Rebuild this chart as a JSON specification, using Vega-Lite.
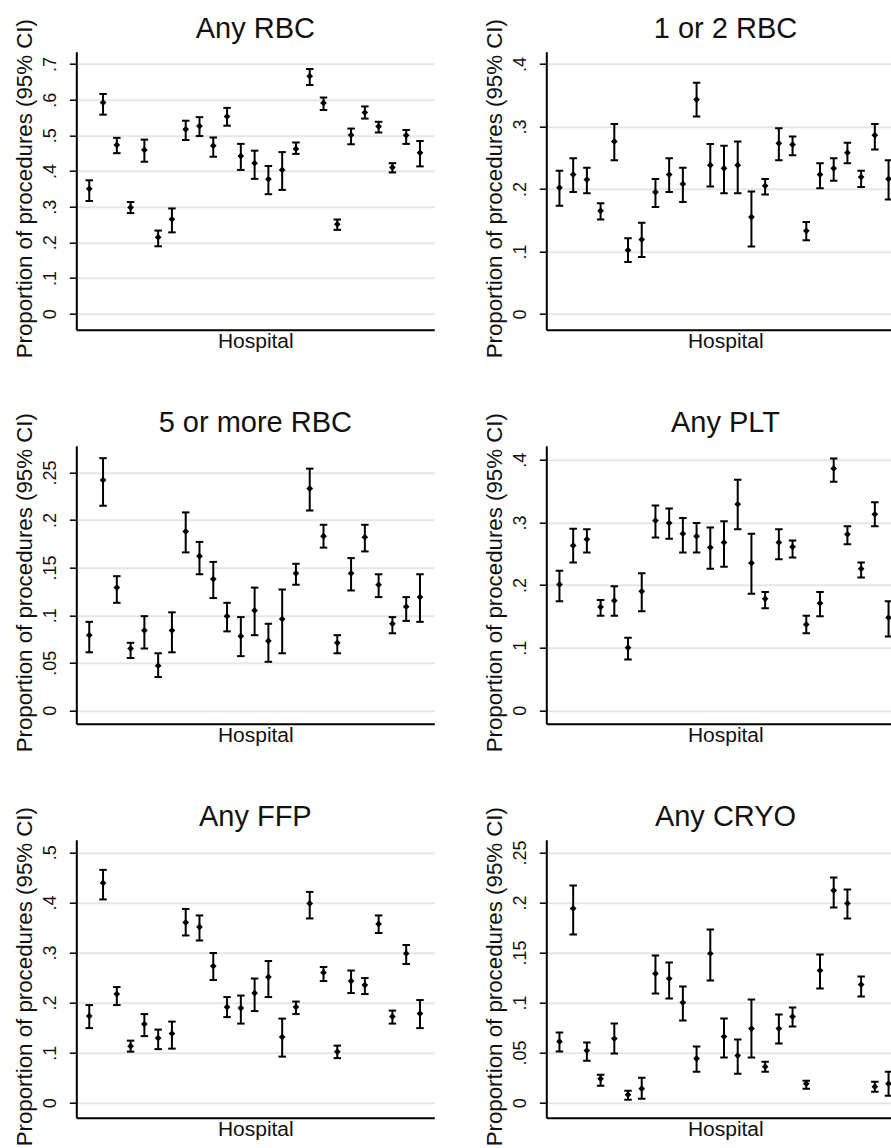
{
  "$schema": "https://vega.github.io/schema/vega-lite/v6.json",
  "usermeta": {"embedOptions": {"actions": false}},
  "background": "white",
  "padding": {"left": 12.3, "top": 14.7, "right": 0, "bottom": 0},
  "bounds": "flush",
  "columns": 2,
  "spacing": {"row": 116, "column": 112},
  "config": {
    "font": "Liberation Sans",
    "view": {"stroke": null},
    "axis": {"domainColor": "#000", "domainWidth": 2, "tickColor": "#000", "tickWidth": 1.5, "labelColor": "#111", "titleColor": "#111", "titleFontWeight": "normal", "titleFont": "Liberation Sans", "labelFont": "Liberation Sans"},
    "axisY": {"grid": true, "gridColor": "#e6e6e6", "gridWidth": 2, "tickSize": 7, "tickCount": 10, "labelFontSize": 18, "labelAngle": -90, "labelAlign": "center", "labelBaseline": "alphabetic", "labelPadding": 14, "labelFlush": false, "labelOverlap": false, "labelBound": false, "titleFontSize": 22.3, "titleAngle": -90, "titleX": -45, "titleY": 136.5, "titleBaseline": "alphabetic", "titleAlign": "center"},
    "axisX": {"labels": false, "ticks": false, "grid": false, "titleFontSize": 21, "titlePadding": 1},
    "title": {"fontSize": 29, "fontWeight": "normal", "color": "#111", "font": "Liberation Sans", "offset": -20.1, "baseline": "alphabetic", "frame": "group", "anchor": "middle"}
  },
  "datasets": {
    "rbc": [
      {"h":1,"p":0.350,"lo":0.316,"hi":0.374},{"h":2,"p":0.592,"lo":0.558,"hi":0.616},{"h":3,"p":0.473,"lo":0.450,"hi":0.493},{"h":4,"p":0.298,"lo":0.282,"hi":0.313},{"h":5,"p":0.459,"lo":0.426,"hi":0.488},
      {"h":6,"p":0.214,"lo":0.189,"hi":0.233},{"h":7,"p":0.265,"lo":0.228,"hi":0.295},{"h":8,"p":0.517,"lo":0.487,"hi":0.541},{"h":9,"p":0.526,"lo":0.498,"hi":0.551},{"h":10,"p":0.471,"lo":0.440,"hi":0.494},
      {"h":11,"p":0.553,"lo":0.527,"hi":0.577},{"h":12,"p":0.442,"lo":0.403,"hi":0.476},{"h":13,"p":0.422,"lo":0.378,"hi":0.457},{"h":14,"p":0.377,"lo":0.335,"hi":0.414},{"h":15,"p":0.403,"lo":0.347,"hi":0.453},
      {"h":16,"p":0.462,"lo":0.448,"hi":0.480},{"h":17,"p":0.666,"lo":0.641,"hi":0.686},{"h":18,"p":0.591,"lo":0.571,"hi":0.606},{"h":19,"p":0.251,"lo":0.235,"hi":0.264},{"h":20,"p":0.501,"lo":0.475,"hi":0.519},
      {"h":21,"p":0.564,"lo":0.547,"hi":0.581},{"h":22,"p":0.525,"lo":0.508,"hi":0.538},{"h":23,"p":0.410,"lo":0.396,"hi":0.422},{"h":24,"p":0.500,"lo":0.476,"hi":0.515},{"h":25,"p":0.451,"lo":0.413,"hi":0.484}
    ],
    "rbc12": [
      {"h":1,"p":0.202,"lo":0.173,"hi":0.229},{"h":2,"p":0.223,"lo":0.195,"hi":0.249},{"h":3,"p":0.215,"lo":0.193,"hi":0.234},{"h":4,"p":0.165,"lo":0.151,"hi":0.177},{"h":5,"p":0.276,"lo":0.246,"hi":0.304},
      {"h":6,"p":0.102,"lo":0.083,"hi":0.121},{"h":7,"p":0.119,"lo":0.091,"hi":0.146},{"h":8,"p":0.195,"lo":0.171,"hi":0.216},{"h":9,"p":0.223,"lo":0.195,"hi":0.249},{"h":10,"p":0.208,"lo":0.179,"hi":0.234},
      {"h":11,"p":0.343,"lo":0.316,"hi":0.370},{"h":12,"p":0.238,"lo":0.204,"hi":0.272},{"h":13,"p":0.233,"lo":0.193,"hi":0.269},{"h":14,"p":0.238,"lo":0.193,"hi":0.276},{"h":15,"p":0.155,"lo":0.108,"hi":0.196},
      {"h":16,"p":0.205,"lo":0.191,"hi":0.216},{"h":17,"p":0.273,"lo":0.246,"hi":0.297},{"h":18,"p":0.271,"lo":0.254,"hi":0.284},{"h":19,"p":0.133,"lo":0.118,"hi":0.147},{"h":20,"p":0.223,"lo":0.201,"hi":0.241},
      {"h":21,"p":0.233,"lo":0.213,"hi":0.249},{"h":22,"p":0.258,"lo":0.241,"hi":0.274},{"h":23,"p":0.219,"lo":0.203,"hi":0.229},{"h":24,"p":0.286,"lo":0.263,"hi":0.304},{"h":25,"p":0.216,"lo":0.183,"hi":0.246}
    ],
    "rbc5": [
      {"h":1,"p":0.079,"lo":0.061,"hi":0.093},{"h":2,"p":0.242,"lo":0.215,"hi":0.265},{"h":3,"p":0.129,"lo":0.113,"hi":0.141},{"h":4,"p":0.065,"lo":0.055,"hi":0.071},{"h":5,"p":0.084,"lo":0.065,"hi":0.099},
      {"h":6,"p":0.047,"lo":0.035,"hi":0.060},{"h":7,"p":0.084,"lo":0.061,"hi":0.103},{"h":8,"p":0.188,"lo":0.166,"hi":0.208},{"h":9,"p":0.162,"lo":0.143,"hi":0.177},{"h":10,"p":0.138,"lo":0.118,"hi":0.156},
      {"h":11,"p":0.099,"lo":0.083,"hi":0.113},{"h":12,"p":0.078,"lo":0.057,"hi":0.098},{"h":13,"p":0.105,"lo":0.079,"hi":0.129},{"h":14,"p":0.073,"lo":0.051,"hi":0.091},{"h":15,"p":0.096,"lo":0.060,"hi":0.127},
      {"h":16,"p":0.144,"lo":0.132,"hi":0.154},{"h":17,"p":0.233,"lo":0.210,"hi":0.254},{"h":18,"p":0.183,"lo":0.171,"hi":0.195},{"h":19,"p":0.071,"lo":0.060,"hi":0.079},{"h":20,"p":0.144,"lo":0.126,"hi":0.160},
      {"h":21,"p":0.182,"lo":0.167,"hi":0.195},{"h":22,"p":0.132,"lo":0.119,"hi":0.143},{"h":23,"p":0.091,"lo":0.081,"hi":0.098},{"h":24,"p":0.109,"lo":0.094,"hi":0.119},{"h":25,"p":0.119,"lo":0.093,"hi":0.143}
    ],
    "plt": [
      {"h":1,"p":0.201,"lo":0.174,"hi":0.223},{"h":2,"p":0.263,"lo":0.236,"hi":0.290},{"h":3,"p":0.273,"lo":0.252,"hi":0.289},{"h":4,"p":0.165,"lo":0.151,"hi":0.176},{"h":5,"p":0.175,"lo":0.151,"hi":0.198},
      {"h":6,"p":0.100,"lo":0.081,"hi":0.116},{"h":7,"p":0.190,"lo":0.158,"hi":0.219},{"h":8,"p":0.303,"lo":0.276,"hi":0.327},{"h":9,"p":0.299,"lo":0.274,"hi":0.322},{"h":10,"p":0.282,"lo":0.252,"hi":0.307},
      {"h":11,"p":0.278,"lo":0.252,"hi":0.299},{"h":12,"p":0.260,"lo":0.226,"hi":0.292},{"h":13,"p":0.268,"lo":0.229,"hi":0.302},{"h":14,"p":0.329,"lo":0.289,"hi":0.368},{"h":15,"p":0.235,"lo":0.186,"hi":0.282},
      {"h":16,"p":0.178,"lo":0.163,"hi":0.189},{"h":17,"p":0.268,"lo":0.241,"hi":0.289},{"h":18,"p":0.261,"lo":0.244,"hi":0.271},{"h":19,"p":0.137,"lo":0.123,"hi":0.151},{"h":20,"p":0.171,"lo":0.150,"hi":0.189},
      {"h":21,"p":0.386,"lo":0.365,"hi":0.402},{"h":22,"p":0.281,"lo":0.265,"hi":0.294},{"h":23,"p":0.226,"lo":0.212,"hi":0.236},{"h":24,"p":0.313,"lo":0.294,"hi":0.332},{"h":25,"p":0.148,"lo":0.118,"hi":0.174}
    ],
    "ffp": [
      {"h":1,"p":0.173,"lo":0.149,"hi":0.195},{"h":2,"p":0.439,"lo":0.406,"hi":0.465},{"h":3,"p":0.217,"lo":0.195,"hi":0.231},{"h":4,"p":0.113,"lo":0.102,"hi":0.124},{"h":5,"p":0.157,"lo":0.133,"hi":0.177},
      {"h":6,"p":0.129,"lo":0.107,"hi":0.146},{"h":7,"p":0.138,"lo":0.108,"hi":0.162},{"h":8,"p":0.360,"lo":0.334,"hi":0.387},{"h":9,"p":0.351,"lo":0.324,"hi":0.374},{"h":10,"p":0.273,"lo":0.245,"hi":0.299},
      {"h":11,"p":0.191,"lo":0.171,"hi":0.211},{"h":12,"p":0.189,"lo":0.158,"hi":0.214},{"h":13,"p":0.219,"lo":0.183,"hi":0.248},{"h":14,"p":0.251,"lo":0.211,"hi":0.283},{"h":15,"p":0.131,"lo":0.092,"hi":0.168},
      {"h":16,"p":0.191,"lo":0.177,"hi":0.202},{"h":17,"p":0.398,"lo":0.368,"hi":0.421},{"h":18,"p":0.260,"lo":0.243,"hi":0.271},{"h":19,"p":0.102,"lo":0.089,"hi":0.114},{"h":20,"p":0.243,"lo":0.219,"hi":0.264},
      {"h":21,"p":0.235,"lo":0.217,"hi":0.249},{"h":22,"p":0.357,"lo":0.339,"hi":0.374},{"h":23,"p":0.172,"lo":0.158,"hi":0.184},{"h":24,"p":0.298,"lo":0.277,"hi":0.315},{"h":25,"p":0.178,"lo":0.149,"hi":0.205}
    ],
    "cryo": [
      {"h":1,"p":0.061,"lo":0.051,"hi":0.070},{"h":2,"p":0.194,"lo":0.168,"hi":0.217},{"h":3,"p":0.052,"lo":0.042,"hi":0.060},{"h":4,"p":0.024,"lo":0.017,"hi":0.028},{"h":5,"p":0.064,"lo":0.049,"hi":0.079},
      {"h":6,"p":0.008,"lo":0.003,"hi":0.012},{"h":7,"p":0.014,"lo":0.004,"hi":0.025},{"h":8,"p":0.129,"lo":0.109,"hi":0.147},{"h":9,"p":0.124,"lo":0.104,"hi":0.140},{"h":10,"p":0.100,"lo":0.082,"hi":0.116},
      {"h":11,"p":0.044,"lo":0.031,"hi":0.056},{"h":12,"p":0.149,"lo":0.122,"hi":0.173},{"h":13,"p":0.066,"lo":0.045,"hi":0.084},{"h":14,"p":0.047,"lo":0.029,"hi":0.063},{"h":15,"p":0.074,"lo":0.045,"hi":0.103},
      {"h":16,"p":0.036,"lo":0.031,"hi":0.041},{"h":17,"p":0.074,"lo":0.059,"hi":0.088},{"h":18,"p":0.086,"lo":0.076,"hi":0.095},{"h":19,"p":0.019,"lo":0.014,"hi":0.022},{"h":20,"p":0.132,"lo":0.114,"hi":0.148},
      {"h":21,"p":0.212,"lo":0.195,"hi":0.225},{"h":22,"p":0.199,"lo":0.184,"hi":0.213},{"h":23,"p":0.118,"lo":0.106,"hi":0.126},{"h":24,"p":0.016,"lo":0.011,"hi":0.021},{"h":25,"p":0.019,"lo":0.007,"hi":0.031}
    ]
  },
  "concat": [
    {
      "title": {"text": "Any RBC", "dy": 5.5},
      "width": 358, "height": 278,
      "data": {"name": "rbc"},
      "encoding": {"x": {"field": "h", "type": "quantitative", "scale": {"domain": [0.06, 26.04], "nice": false, "zero": false}, "axis": {"title": "Hospital"}}},
      "layer": [
        {"mark": {"type": "rule", "strokeWidth": 2, "color": "#000"}, "encoding": {"y": {"field": "lo", "type": "quantitative", "scale": {"domain": [-0.0449, 0.7345], "nice": false, "zero": false}, "axis": {"title": "Proportion of procedures (95% CI)", "values": [0, 0.1, 0.2, 0.3, 0.4, 0.5, 0.6, 0.7], "tickCount": 10, "labelExpr": "datum.value == 0 ? '0' : replace(format(datum.value, '.2~f'), '0.', '.')"}}, "y2": {"field": "hi"}}},
        {"mark": {"type": "tick", "orient": "horizontal", "size": 7.5, "thickness": 2, "color": "#000", "opacity": 1}, "encoding": {"y": {"field": "lo", "type": "quantitative"}}},
        {"mark": {"type": "tick", "orient": "horizontal", "size": 7.5, "thickness": 2, "color": "#000", "opacity": 1}, "encoding": {"y": {"field": "hi", "type": "quantitative"}}},
        {"mark": {"type": "point", "shape": "diamond", "filled": true, "size": 45, "color": "#000", "opacity": 1}, "encoding": {"y": {"field": "p", "type": "quantitative"}}}
      ]
    },
    {
      "title": {"text": "1 or 2 RBC", "dx": 6.7, "dy": 5.5},
      "width": 345, "height": 278,
      "data": {"name": "rbc12"},
      "encoding": {"x": {"field": "h", "type": "quantitative", "scale": {"domain": [0.04, 25.2], "nice": false, "zero": false}, "axis": {"title": "Hospital", "titleX": 179}}},
      "layer": [
        {"mark": {"type": "rule", "strokeWidth": 2, "color": "#000", "clip": true}, "encoding": {"y": {"field": "lo", "type": "quantitative", "scale": {"domain": [-0.0253, 0.4197], "nice": false, "zero": false}, "axis": {"title": "Proportion of procedures (95% CI)", "values": [0, 0.1, 0.2, 0.3, 0.4], "tickCount": 10, "labelExpr": "datum.value == 0 ? '0' : replace(format(datum.value, '.2~f'), '0.', '.')"}}, "y2": {"field": "hi"}}},
        {"mark": {"type": "tick", "orient": "horizontal", "size": 7.5, "thickness": 2, "color": "#000", "opacity": 1, "clip": true}, "encoding": {"y": {"field": "lo", "type": "quantitative"}}},
        {"mark": {"type": "tick", "orient": "horizontal", "size": 7.5, "thickness": 2, "color": "#000", "opacity": 1, "clip": true}, "encoding": {"y": {"field": "hi", "type": "quantitative"}}},
        {"mark": {"type": "point", "shape": "diamond", "filled": true, "size": 45, "color": "#000", "opacity": 1, "clip": true}, "encoding": {"y": {"field": "p", "type": "quantitative"}}}
      ]
    },
    {
      "title": {"text": "5 or more RBC", "dy": 5.5},
      "width": 358, "height": 278,
      "data": {"name": "rbc5"},
      "encoding": {"x": {"field": "h", "type": "quantitative", "scale": {"domain": [0.06, 26.04], "nice": false, "zero": false}, "axis": {"title": "Hospital"}}},
      "layer": [
        {"mark": {"type": "rule", "strokeWidth": 2, "color": "#000"}, "encoding": {"y": {"field": "lo", "type": "quantitative", "scale": {"domain": [-0.014, 0.2781], "nice": false, "zero": false}, "axis": {"title": "Proportion of procedures (95% CI)", "values": [0, 0.05, 0.1, 0.15, 0.2, 0.25], "tickCount": 10, "labelExpr": "datum.value == 0 ? '0' : replace(format(datum.value, '.2~f'), '0.', '.')"}}, "y2": {"field": "hi"}}},
        {"mark": {"type": "tick", "orient": "horizontal", "size": 7.5, "thickness": 2, "color": "#000", "opacity": 1}, "encoding": {"y": {"field": "lo", "type": "quantitative"}}},
        {"mark": {"type": "tick", "orient": "horizontal", "size": 7.5, "thickness": 2, "color": "#000", "opacity": 1}, "encoding": {"y": {"field": "hi", "type": "quantitative"}}},
        {"mark": {"type": "point", "shape": "diamond", "filled": true, "size": 45, "color": "#000", "opacity": 1}, "encoding": {"y": {"field": "p", "type": "quantitative"}}}
      ]
    },
    {
      "title": {"text": "Any PLT", "dx": 6.7, "dy": 5.5},
      "width": 345, "height": 278,
      "data": {"name": "plt"},
      "encoding": {"x": {"field": "h", "type": "quantitative", "scale": {"domain": [0.04, 25.2], "nice": false, "zero": false}, "axis": {"title": "Hospital", "titleX": 179}}},
      "layer": [
        {"mark": {"type": "rule", "strokeWidth": 2, "color": "#000", "clip": true}, "encoding": {"y": {"field": "lo", "type": "quantitative", "scale": {"domain": [-0.0213, 0.4224], "nice": false, "zero": false}, "axis": {"title": "Proportion of procedures (95% CI)", "values": [0, 0.1, 0.2, 0.3, 0.4], "tickCount": 10, "labelExpr": "datum.value == 0 ? '0' : replace(format(datum.value, '.2~f'), '0.', '.')"}}, "y2": {"field": "hi"}}},
        {"mark": {"type": "tick", "orient": "horizontal", "size": 7.5, "thickness": 2, "color": "#000", "opacity": 1, "clip": true}, "encoding": {"y": {"field": "lo", "type": "quantitative"}}},
        {"mark": {"type": "tick", "orient": "horizontal", "size": 7.5, "thickness": 2, "color": "#000", "opacity": 1, "clip": true}, "encoding": {"y": {"field": "hi", "type": "quantitative"}}},
        {"mark": {"type": "point", "shape": "diamond", "filled": true, "size": 45, "color": "#000", "opacity": 1, "clip": true}, "encoding": {"y": {"field": "p", "type": "quantitative"}}}
      ]
    },
    {
      "title": {"text": "Any FFP", "dy": 5.5},
      "width": 358, "height": 278,
      "data": {"name": "ffp"},
      "encoding": {"x": {"field": "h", "type": "quantitative", "scale": {"domain": [0.06, 26.04], "nice": false, "zero": false}, "axis": {"title": "Hospital"}}},
      "layer": [
        {"mark": {"type": "rule", "strokeWidth": 2, "color": "#000"}, "encoding": {"y": {"field": "lo", "type": "quantitative", "scale": {"domain": [-0.0299, 0.5253], "nice": false, "zero": false}, "axis": {"title": "Proportion of procedures (95% CI)", "values": [0, 0.1, 0.2, 0.3, 0.4, 0.5], "tickCount": 10, "labelExpr": "datum.value == 0 ? '0' : replace(format(datum.value, '.2~f'), '0.', '.')"}}, "y2": {"field": "hi"}}},
        {"mark": {"type": "tick", "orient": "horizontal", "size": 7.5, "thickness": 2, "color": "#000", "opacity": 1}, "encoding": {"y": {"field": "lo", "type": "quantitative"}}},
        {"mark": {"type": "tick", "orient": "horizontal", "size": 7.5, "thickness": 2, "color": "#000", "opacity": 1}, "encoding": {"y": {"field": "hi", "type": "quantitative"}}},
        {"mark": {"type": "point", "shape": "diamond", "filled": true, "size": 45, "color": "#000", "opacity": 1}, "encoding": {"y": {"field": "p", "type": "quantitative"}}}
      ]
    },
    {
      "title": {"text": "Any CRYO", "dx": 6.7, "dy": 5.5},
      "width": 345, "height": 278,
      "data": {"name": "cryo"},
      "encoding": {"x": {"field": "h", "type": "quantitative", "scale": {"domain": [0.04, 25.2], "nice": false, "zero": false}, "axis": {"title": "Hospital", "titleX": 179}}},
      "layer": [
        {"mark": {"type": "rule", "strokeWidth": 2, "color": "#000", "clip": true}, "encoding": {"y": {"field": "lo", "type": "quantitative", "scale": {"domain": [-0.015, 0.2627], "nice": false, "zero": false}, "axis": {"title": "Proportion of procedures (95% CI)", "values": [0, 0.05, 0.1, 0.15, 0.2, 0.25], "tickCount": 10, "labelExpr": "datum.value == 0 ? '0' : replace(format(datum.value, '.2~f'), '0.', '.')"}}, "y2": {"field": "hi"}}},
        {"mark": {"type": "tick", "orient": "horizontal", "size": 7.5, "thickness": 2, "color": "#000", "opacity": 1, "clip": true}, "encoding": {"y": {"field": "lo", "type": "quantitative"}}},
        {"mark": {"type": "tick", "orient": "horizontal", "size": 7.5, "thickness": 2, "color": "#000", "opacity": 1, "clip": true}, "encoding": {"y": {"field": "hi", "type": "quantitative"}}},
        {"mark": {"type": "point", "shape": "diamond", "filled": true, "size": 45, "color": "#000", "opacity": 1, "clip": true}, "encoding": {"y": {"field": "p", "type": "quantitative"}}}
      ]
    }
  ]
}
